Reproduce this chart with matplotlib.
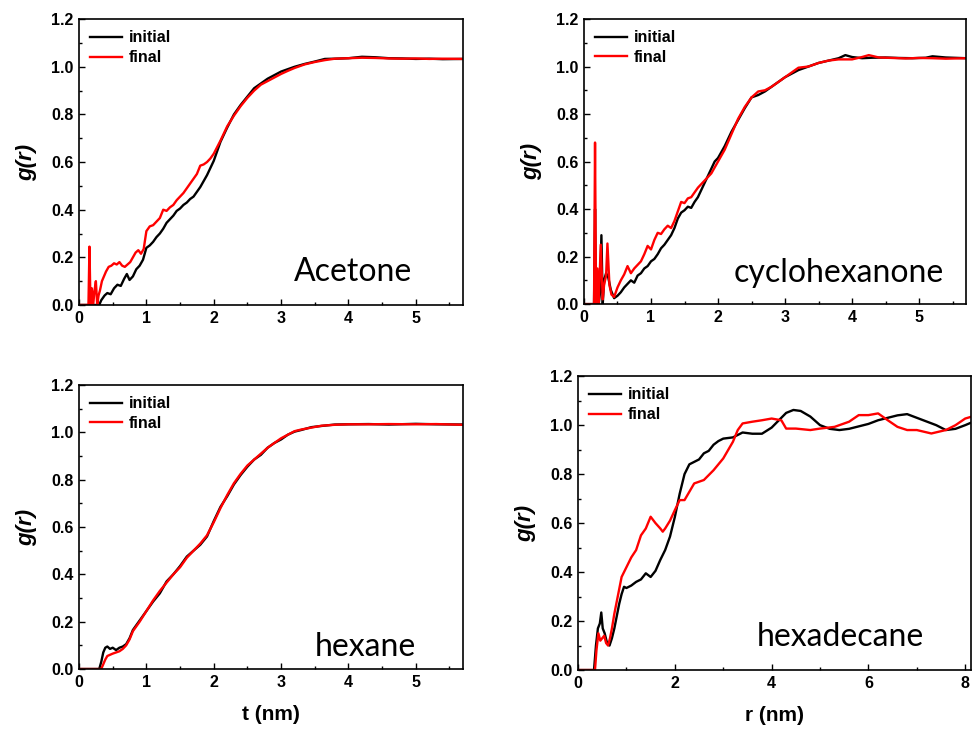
import matplotlib.pyplot as plt
from matplotlib.ticker import MultipleLocator

# --- Data (x in nm, y = g(r)) ---
acetone_x_init = [0, 0.30, 0.33, 0.38, 0.42, 0.47, 0.52, 0.57, 0.62, 0.67,
                  0.71, 0.75, 0.80, 0.85, 0.90, 0.95, 1.00, 1.05, 1.10, 1.15,
                  1.20, 1.25, 1.30, 1.35, 1.40, 1.45, 1.50, 1.55, 1.60, 1.65,
                  1.70, 1.75, 1.80, 1.85, 1.90, 1.95, 2.00, 2.10, 2.20, 2.30,
                  2.40, 2.50, 2.60, 2.70, 2.80, 2.90, 3.00, 3.10, 3.20, 3.35,
                  3.50, 3.65, 3.80, 4.00, 4.20, 4.40, 4.60, 4.80, 5.00, 5.20,
                  5.40, 5.70]
acetone_y_init = [0, 0, 0.02, 0.04, 0.05, 0.045, 0.07, 0.085, 0.08, 0.11,
                  0.13, 0.105, 0.12, 0.15, 0.165, 0.19, 0.24, 0.25, 0.265, 0.285,
                  0.30, 0.32, 0.345, 0.36, 0.375, 0.395, 0.405, 0.42, 0.43, 0.445,
                  0.455, 0.475, 0.495, 0.52, 0.545, 0.575, 0.605, 0.685, 0.745, 0.80,
                  0.84, 0.875, 0.91, 0.93, 0.95, 0.965, 0.98, 0.99, 1.0, 1.012,
                  1.022, 1.033, 1.034, 1.036, 1.042, 1.040, 1.036, 1.035, 1.033, 1.034,
                  1.032, 1.033]
acetone_x_final = [0, 0.14, 0.155, 0.17, 0.19, 0.21, 0.23, 0.25, 0.27, 0.29,
                   0.31, 0.34, 0.37, 0.40, 0.44, 0.48, 0.52, 0.56, 0.60, 0.64,
                   0.68, 0.72, 0.76, 0.80, 0.84, 0.88, 0.92, 0.96, 1.00, 1.05,
                   1.10, 1.15, 1.20, 1.25, 1.30, 1.35, 1.40, 1.45, 1.50, 1.55,
                   1.60, 1.65, 1.70, 1.75, 1.80, 1.85, 1.90, 1.95, 2.00, 2.10,
                   2.20, 2.30, 2.40, 2.50, 2.60, 2.70, 2.80, 2.90, 3.00, 3.10,
                   3.20, 3.35, 3.50, 3.65, 3.80, 4.00, 4.20, 4.40, 4.60, 4.80,
                   5.00, 5.20, 5.40, 5.70]
acetone_y_final = [0, 0, 0.245, 0.0, 0.07, 0.0, 0.06, 0.10, 0.0, 0.04,
                   0.06, 0.10, 0.12, 0.14, 0.16, 0.165, 0.175, 0.17, 0.18, 0.165,
                   0.16, 0.17, 0.18, 0.20, 0.22, 0.23, 0.215, 0.235, 0.31, 0.33,
                   0.335, 0.35, 0.365, 0.40, 0.395, 0.41, 0.42, 0.44, 0.455, 0.47,
                   0.49, 0.51, 0.53, 0.55, 0.585, 0.59, 0.60, 0.615, 0.635, 0.69,
                   0.75, 0.795, 0.835, 0.87, 0.90, 0.925, 0.94, 0.955, 0.97, 0.983,
                   0.995, 1.01, 1.02, 1.028, 1.034, 1.036, 1.038, 1.037, 1.035, 1.034,
                   1.035, 1.033, 1.034, 1.033]

cyclo_x_init = [0, 0.15, 0.165, 0.18, 0.20, 0.22, 0.24, 0.26, 0.28, 0.30,
                0.33, 0.36, 0.40, 0.45, 0.50, 0.55, 0.60, 0.65, 0.70, 0.75,
                0.80, 0.85, 0.90, 0.95, 1.00, 1.05, 1.10, 1.15, 1.20, 1.25,
                1.30, 1.35, 1.40, 1.45, 1.50, 1.55, 1.60, 1.65, 1.70, 1.75,
                1.80, 1.85, 1.90, 1.95, 2.00, 2.10, 2.20, 2.30, 2.40, 2.50,
                2.60, 2.70, 2.80, 2.90, 3.00, 3.10, 3.20, 3.35, 3.50, 3.65,
                3.80, 3.90, 4.00, 4.15, 4.30, 4.50, 4.70, 4.90, 5.10, 5.20,
                5.40, 5.70]
cyclo_y_init = [0, 0, 0.40, 0.0, 0.12, 0.0, 0.05, 0.29, 0.0, 0.10,
                0.13, 0.115, 0.06, 0.025, 0.035, 0.05, 0.07, 0.085, 0.10, 0.09,
                0.12, 0.13, 0.15, 0.16, 0.18, 0.19, 0.21, 0.235, 0.25, 0.27,
                0.29, 0.32, 0.36, 0.385, 0.395, 0.41, 0.405, 0.43, 0.45, 0.48,
                0.51, 0.54, 0.57, 0.60, 0.615, 0.665, 0.725, 0.775, 0.825, 0.87,
                0.88, 0.895, 0.915, 0.935, 0.955, 0.97, 0.985, 1.0, 1.015, 1.025,
                1.035, 1.048, 1.04, 1.035, 1.037, 1.038, 1.036, 1.035, 1.037, 1.043,
                1.038, 1.035]
cyclo_x_final = [0, 0.15, 0.165, 0.18, 0.20, 0.22, 0.25, 0.28, 0.30, 0.33,
                 0.35, 0.38, 0.41, 0.45, 0.50, 0.55, 0.60, 0.65, 0.70, 0.75,
                 0.80, 0.85, 0.90, 0.95, 1.00, 1.05, 1.10, 1.15, 1.20, 1.25,
                 1.30, 1.35, 1.40, 1.45, 1.50, 1.55, 1.60, 1.65, 1.70, 1.75,
                 1.80, 1.85, 1.90, 1.95, 2.00, 2.10, 2.20, 2.30, 2.40, 2.50,
                 2.60, 2.70, 2.80, 2.90, 3.00, 3.10, 3.20, 3.35, 3.50, 3.65,
                 3.80, 4.00, 4.15, 4.25, 4.40, 4.60, 4.80, 5.00, 5.20, 5.40,
                 5.70]
cyclo_y_final = [0, 0, 0.68, 0.0, 0.15, 0.0, 0.25, 0.02, 0.08, 0.12,
                 0.255, 0.08, 0.04, 0.03, 0.07, 0.10, 0.125, 0.16, 0.13, 0.15,
                 0.165, 0.18, 0.21, 0.245, 0.23, 0.27, 0.30, 0.295, 0.315, 0.33,
                 0.32, 0.35, 0.39, 0.43, 0.425, 0.445, 0.45, 0.47, 0.49, 0.505,
                 0.52, 0.535, 0.55, 0.575, 0.60, 0.65, 0.715, 0.78, 0.83, 0.87,
                 0.895, 0.90, 0.915, 0.935, 0.955, 0.975, 0.995, 1.0, 1.015, 1.025,
                 1.03, 1.03, 1.04, 1.048, 1.038, 1.036, 1.034, 1.036, 1.035, 1.033,
                 1.035]

hexane_x = [0, 0.30, 0.33, 0.36, 0.39, 0.42, 0.46, 0.50, 0.55, 0.60,
            0.65, 0.70, 0.75, 0.80, 0.90, 1.00, 1.10, 1.20, 1.30, 1.40,
            1.50, 1.60, 1.70, 1.80, 1.90, 2.00, 2.10, 2.20, 2.30, 2.40,
            2.50, 2.60, 2.70, 2.80, 2.90, 3.00, 3.10, 3.20, 3.30, 3.45,
            3.60, 3.80, 4.00, 4.30, 4.60, 5.00, 5.30, 5.70]
hexane_y_init = [0, 0, 0.03, 0.07, 0.09, 0.095, 0.085, 0.09, 0.08, 0.09,
                 0.095, 0.105, 0.13, 0.165, 0.205, 0.245, 0.285, 0.32, 0.37, 0.40,
                 0.435, 0.475, 0.50, 0.525, 0.56, 0.625, 0.685, 0.73, 0.78, 0.82,
                 0.855, 0.885, 0.905, 0.935, 0.955, 0.97, 0.99, 1.003, 1.01, 1.022,
                 1.027, 1.033, 1.034, 1.035, 1.033, 1.036, 1.034, 1.033]
hexane_y_final = [0, 0, 0.0, 0.02, 0.04, 0.055, 0.06, 0.065, 0.07, 0.075,
                  0.085, 0.10, 0.125, 0.16, 0.20, 0.245, 0.29, 0.33, 0.365, 0.40,
                  0.43, 0.47, 0.50, 0.53, 0.565, 0.62, 0.68, 0.735, 0.785, 0.825,
                  0.86, 0.885, 0.91, 0.935, 0.955, 0.975, 0.99, 1.005, 1.012, 1.02,
                  1.028, 1.032, 1.034, 1.034, 1.035, 1.034, 1.035, 1.032]

hexadec_x_init = [0, 0.33, 0.37, 0.41, 0.45, 0.48, 0.51, 0.55, 0.60, 0.65,
                  0.70, 0.75, 0.80, 0.85, 0.90, 0.95, 1.00, 1.10, 1.20, 1.30,
                  1.40, 1.50, 1.60, 1.70, 1.80, 1.90, 2.00, 2.10, 2.20, 2.30,
                  2.40, 2.50, 2.60, 2.70, 2.80, 2.90, 3.00, 3.20, 3.40, 3.60,
                  3.80, 4.00, 4.15, 4.30, 4.45, 4.60, 4.80, 5.00, 5.20, 5.40,
                  5.60, 5.80, 6.00, 6.20, 6.40, 6.60, 6.80, 7.00, 7.20, 7.40,
                  7.60, 7.80, 8.00, 8.12]
hexadec_y_init = [0, 0, 0.10, 0.17, 0.19, 0.235, 0.17, 0.15, 0.11, 0.10,
                  0.13, 0.17, 0.22, 0.27, 0.31, 0.34, 0.335, 0.345, 0.36, 0.37,
                  0.395, 0.38, 0.405, 0.45, 0.49, 0.545, 0.625, 0.72, 0.80, 0.84,
                  0.85, 0.86, 0.885, 0.895, 0.92, 0.935, 0.945, 0.95, 0.97, 0.965,
                  0.965, 0.99, 1.02, 1.05, 1.062, 1.058, 1.035, 1.0, 0.985, 0.98,
                  0.985, 0.995, 1.005, 1.02, 1.03, 1.04, 1.045, 1.03, 1.015, 1.0,
                  0.98, 0.985, 1.0, 1.01]
hexadec_x_final = [0, 0.35, 0.38, 0.42, 0.46, 0.50, 0.54, 0.58, 0.62, 0.66,
                   0.70, 0.75, 0.80, 0.85, 0.90, 1.00, 1.10, 1.20, 1.30, 1.40,
                   1.50, 1.60, 1.70, 1.75, 1.80, 1.90, 2.00, 2.10, 2.20, 2.30,
                   2.40, 2.50, 2.60, 2.70, 2.80, 3.00, 3.20, 3.30, 3.40, 3.60,
                   3.80, 4.00, 4.20, 4.30, 4.50, 4.80, 5.00, 5.30, 5.60, 5.80,
                   6.00, 6.20, 6.40, 6.60, 6.80, 7.00, 7.30, 7.60, 7.80, 8.00,
                   8.12]
hexadec_y_final = [0, 0, 0.08, 0.15, 0.12, 0.13, 0.14, 0.11, 0.10, 0.13,
                   0.17, 0.23, 0.28, 0.33, 0.38, 0.42, 0.46, 0.49, 0.55, 0.578,
                   0.626, 0.60, 0.578, 0.565, 0.578, 0.61, 0.653, 0.694, 0.694, 0.728,
                   0.762, 0.769, 0.776, 0.796, 0.816, 0.864, 0.932, 0.98, 1.007, 1.014,
                   1.02, 1.027, 1.02, 0.986, 0.986, 0.98, 0.986, 0.993, 1.014, 1.041,
                   1.041, 1.048, 1.02, 0.993, 0.98, 0.98, 0.966, 0.98, 1.0, 1.027,
                   1.034]

plt.rcParams["font.family"] = "Liberation Sans"
plt.rcParams["font.weight"] = "bold"

fig = plt.figure(figsize=(9.72, 7.31), dpi=100)

panels = [
    dict(rect=[0.0813, 0.5828, 0.395, 0.391], name="Acetone", xmax=5.7, step=1,
         xi=acetone_x_init, yi=acetone_y_init, xf=acetone_x_final, yf=acetone_y_final,
         tpos=(0.713, 0.115), xlabel=None),
    dict(rect=[0.6008, 0.584, 0.393, 0.390], name="cyclohexanone", xmax=5.7, step=1,
         xi=cyclo_x_init, yi=cyclo_y_init, xf=cyclo_x_final, yf=cyclo_y_final,
         tpos=(0.667, 0.109), xlabel=None),
    dict(rect=[0.0813, 0.0848, 0.395, 0.3885], name="hexane", xmax=5.7, step=1,
         xi=hexane_x, yi=hexane_y_init, xf=hexane_x, yf=hexane_y_final,
         tpos=(0.745, 0.077), xlabel="t (nm)"),
    dict(rect=[0.5947, 0.0834, 0.4043, 0.402], name="hexadecane", xmax=8.12, step=2,
         xi=hexadec_x_init, yi=hexadec_y_init, xf=hexadec_x_final, yf=hexadec_y_final,
         tpos=(0.667, 0.112), xlabel="r (nm)"),
]

for p in panels:
    ax = fig.add_axes(p["rect"])
    ax.plot(p["xi"], p["yi"], color="black", lw=1.7, label="initial")
    ax.plot(p["xf"], p["yf"], color="red", lw=1.7, label="final")
    ax.set_xlim(0, p["xmax"])
    ax.set_ylim(0, 1.2)
    ax.xaxis.set_major_locator(MultipleLocator(p["step"]))
    ax.xaxis.set_minor_locator(MultipleLocator(p["step"] / 2))
    ax.yaxis.set_major_locator(MultipleLocator(0.2))
    ax.yaxis.set_minor_locator(MultipleLocator(0.1))
    ax.yaxis.set_major_formatter(plt.FormatStrFormatter("%.1f"))
    ax.tick_params(which="both", direction="in", top=False, right=False,
                   labelsize=11.5, width=1.0)
    ax.tick_params(which="major", length=4, pad=4)
    ax.tick_params(which="minor", length=2.5)
    for s in ax.spines.values():
        s.set_linewidth(1.2)
    ax.set_ylabel("g(r)", fontsize=16, fontstyle="italic", fontweight="bold",
                  labelpad=10)
    if p["xlabel"]:
        ax.set_xlabel(p["xlabel"], fontsize=15, fontweight="bold", labelpad=11)
    ax.legend(loc="upper left", frameon=False,
              handlelength=2.0, handletextpad=0.4, labelspacing=0.3,
              borderaxespad=0.3, prop=dict(weight="bold", size=11.5))
    ax.text(p["tpos"][0], p["tpos"][1], p["name"], transform=ax.transAxes,
            ha="center", va="center", fontsize=23, fontweight="normal",
            family="Lato")

fig.savefig("out.png", dpi=100)
